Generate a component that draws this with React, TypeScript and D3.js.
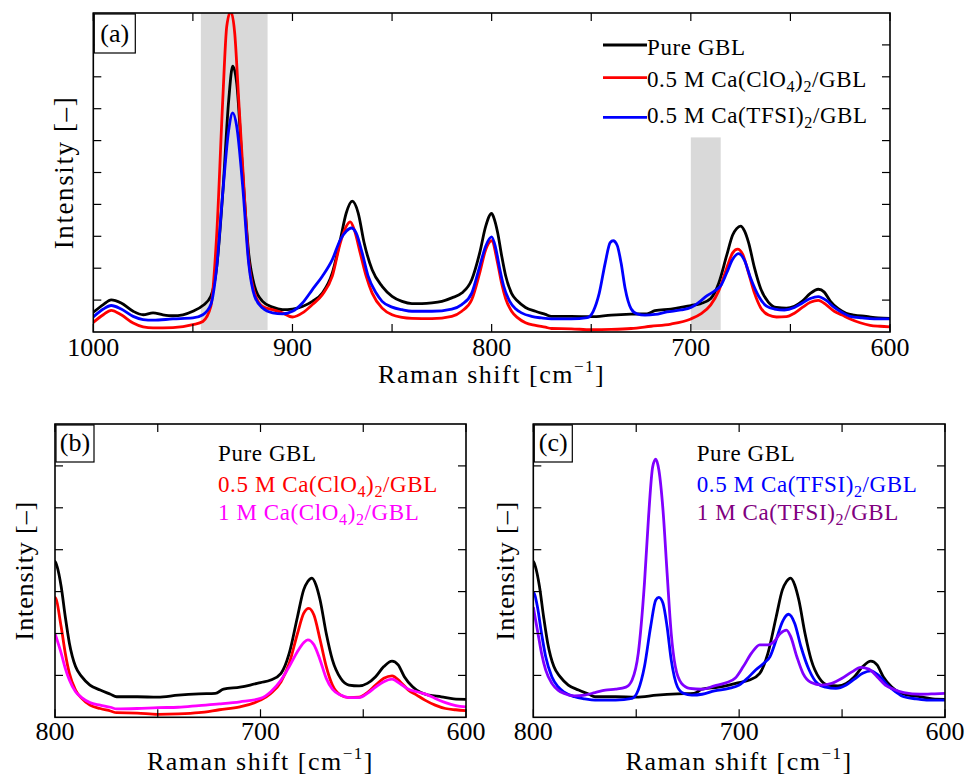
import React from 'react';
import * as d3 from 'd3';

type Pt = [number, number];

// ---------- DATA (Raman shift [cm^-1], intensity [a.u.]) ----------
const pureGBL: Pt[] = [
  [1000, 0.62], [995, 0.86], [991, 1.01], [986, 0.91], [980, 0.65], [975, 0.54], [970, 0.60], [965, 0.54],
  [960, 0.51], [955, 0.54], [950, 0.65], [945, 0.83], [941, 1.12], [938, 2.06], [935, 4.36], [932, 7.28],
  [930, 8.33], [928, 7.8], [925, 5.0], [922, 2.48], [919, 1.43], [915, 0.96], [910, 0.78], [905, 0.70],
  [900, 0.72], [895, 0.80], [890, 0.96], [885, 1.22], [880, 1.85], [876, 2.89], [873, 3.73], [870, 4.10],
  [867, 3.73], [864, 2.79], [860, 1.95], [855, 1.43], [850, 1.12], [845, 0.96], [840, 0.89], [835, 0.89],
  [830, 0.91], [825, 0.96], [820, 1.07], [815, 1.22], [810, 1.64], [806, 2.48], [803, 3.31], [800, 3.72],
  [799, 3.60], [797, 3.12], [795, 2.40], [793, 1.77], [790, 1.21], [787, 0.97], [783, 0.77], [778, 0.65],
  [773, 0.55], [770, 0.49], [760, 0.49], [750, 0.48], [740, 0.53], [730, 0.56], [722, 0.57], [718, 0.67],
  [710, 0.72], [705, 0.77], [700, 0.83], [695, 0.89], [690, 1.05], [686, 1.53], [682, 2.40], [679, 3.04],
  [677, 3.24], [675, 3.32], [673, 3.16], [671, 2.80], [668, 2.00], [665, 1.37], [661, 0.93], [657, 0.77],
  [652, 0.75], [648, 0.81], [644, 0.97], [640, 1.21], [636, 1.34], [633, 1.25], [630, 0.97], [626, 0.73],
  [622, 0.59], [618, 0.53], [612, 0.49], [606, 0.44], [600, 0.43],
];

const clo4Half: Pt[] = [
  [1000, 0.30], [995, 0.54], [991, 0.68], [986, 0.54], [980, 0.28], [975, 0.16], [970, 0.13], [960, 0.14],
  [950, 0.23], [945, 0.33], [941, 0.80], [938, 3.10], [935, 7.28], [933, 9.58], [931, 10.05], [929, 9.37],
  [927, 7.28], [925, 5.19], [922, 2.27], [919, 1.22], [915, 0.80], [910, 0.70], [905, 0.60], [900, 0.47],
  [895, 0.60], [890, 0.86], [885, 1.17], [880, 1.75], [876, 2.79], [873, 3.31], [871, 3.45], [869, 3.21],
  [866, 2.48], [863, 1.75], [860, 1.22], [855, 0.75], [850, 0.54], [845, 0.46], [840, 0.43], [830, 0.42],
  [820, 0.49], [815, 0.65], [810, 1.01], [806, 1.85], [803, 2.58], [800, 2.86], [797, 2.16], [795, 1.53],
  [793, 1.05], [790, 0.65], [787, 0.45], [783, 0.29], [778, 0.21], [773, 0.15], [770, 0.11], [760, 0.10],
  [750, 0.07], [740, 0.08], [730, 0.11], [720, 0.18], [710, 0.25], [700, 0.41], [695, 0.57], [690, 0.85],
  [686, 1.29], [682, 2.00], [679, 2.48], [676.5, 2.60], [674, 2.44], [671, 1.85], [668, 1.21], [665, 0.77],
  [661, 0.53], [657, 0.47], [652, 0.48], [648, 0.59], [644, 0.77], [640, 0.93], [636, 0.99], [632, 0.85],
  [628, 0.65], [624, 0.53], [620, 0.41], [615, 0.29], [610, 0.21], [605, 0.18], [600, 0.16],
];

const tfsiHalf: Pt[] = [
  [1000, 0.47], [995, 0.72], [991, 0.83], [986, 0.72], [980, 0.49], [975, 0.39], [970, 0.37], [960, 0.41],
  [950, 0.44], [945, 0.54], [941, 0.86], [938, 2.06], [935, 4.36], [932, 6.34], [930, 6.87], [928, 6.45],
  [925, 4.57], [922, 2.16], [919, 1.12], [915, 0.75], [910, 0.60], [905, 0.57], [900, 0.65], [895, 0.91],
  [890, 1.33], [885, 1.75], [880, 2.27], [876, 2.89], [873, 3.16], [870.5, 3.26], [868, 3.10], [865, 2.48],
  [862, 1.75], [858, 1.22], [855, 0.96], [850, 0.78], [845, 0.70], [840, 0.65], [830, 0.65], [820, 0.72],
  [815, 0.86], [810, 1.22], [806, 2.06], [803, 2.69], [800, 2.98], [798, 2.64], [796, 2.00], [794, 1.45],
  [791, 0.97], [788, 0.73], [785, 0.60], [780, 0.49], [775, 0.44], [770, 0.41], [760, 0.41], [752, 0.45],
  [749, 0.65], [746, 1.21], [743, 2.16], [740.5, 2.80], [739, 2.86], [737, 2.72], [735, 2.16], [733, 1.37],
  [730, 0.73], [727, 0.57], [723, 0.53], [718, 0.55], [712, 0.63], [705, 0.69], [700, 0.77], [696, 0.93],
  [692, 1.13], [688, 1.29], [685, 1.45], [682, 1.85], [679, 2.28], [676, 2.46], [673, 2.24], [670, 1.69],
  [666, 1.13], [662, 0.81], [658, 0.72], [653, 0.69], [648, 0.77], [644, 0.91], [640, 1.05], [636, 1.11],
  [632, 0.99], [628, 0.77], [624, 0.61], [620, 0.49], [614, 0.44], [608, 0.41], [600, 0.41],
];

const clo4One: Pt[] = [
  [800, 2.00], [797, 1.53], [795, 1.17], [793, 0.89], [790, 0.61], [787, 0.47], [783, 0.35], [778, 0.29],
  [773, 0.24], [770, 0.20], [760, 0.21], [750, 0.23], [740, 0.24], [730, 0.28], [720, 0.32], [710, 0.37],
  [700, 0.45], [695, 0.61], [690, 0.89], [686, 1.21], [682, 1.57], [679, 1.78], [677, 1.85], [674, 1.73],
  [671, 1.37], [668, 0.93], [665, 0.67], [661, 0.53], [657, 0.47], [652, 0.47], [648, 0.57], [644, 0.72],
  [640, 0.85], [636, 0.91], [632, 0.80], [628, 0.67], [624, 0.61], [620, 0.56], [615, 0.45], [610, 0.35],
  [605, 0.28], [600, 0.25],
];

const tfsiOne: Pt[] = [
  [800, 2.63], [798, 2.08], [796, 1.53], [794, 1.13], [791, 0.81], [788, 0.65], [785, 0.57], [780, 0.51],
  [775, 0.53], [770, 0.59], [765, 0.65], [760, 0.67], [755, 0.72], [752, 0.89], [749, 1.53], [746, 3.20],
  [744, 4.79], [742, 5.98], [740.5, 6.16], [739, 5.90], [737, 4.95], [735, 3.44], [733, 2.00], [731, 1.21],
  [728, 0.81], [724, 0.69], [718, 0.67], [712, 0.75], [706, 0.83], [702, 0.93], [698, 1.21], [694, 1.53],
  [690, 1.73], [686, 1.73], [683, 1.81], [680, 2.00], [677, 2.08], [675, 1.93], [672, 1.45], [669, 1.05],
  [665, 0.83], [660, 0.77], [655, 0.81], [650, 0.93], [645, 1.09], [641, 1.19], [637, 1.15], [633, 0.97],
  [629, 0.77], [625, 0.67], [620, 0.59], [612, 0.55], [605, 0.56], [600, 0.57],
];

const shadedBandsA: [number, number, number][] = [
  [946, 912.5, 10], // [from, to, top]
  [700, 685, 6.1],
];

const xLabelsA = [1000, 900, 800, 700, 600];
const xLabelsBC = [800, 700, 600];

// ---------- STYLE ----------
const FONT = '"Liberation Serif", "DejaVu Serif", "Noto Serif", Tinos, "Times New Roman", Times, serif';
const C = {
  pure: '#000000',
  clo4Half: '#ff0000',
  tfsiHalf: '#0000ff',
  clo4One: '#ff00ff',
  tfsiOne: '#8000ff',
  tfsiOneText: '#800080',
  band: '#d9d9d9',
};

type Series = { data: Pt[]; color: string };

type LegendRow = { parts: (string | { sub: string })[]; color: string; lineColor?: string };

function RichText({ parts, x, y, color, size, ls }: { parts: (string | { sub: string })[]; x: number; y: number; color: string; size: number; ls: number }) {
  const out: React.ReactNode[] = [];
  parts.forEach((p, i) => {
    const prevSub = i > 0 && typeof parts[i - 1] !== 'string';
    if (typeof p === 'string') {
      out.push(<tspan key={i} dy={prevSub ? -5 : 0} style={{ fontSize: size }}>{p}</tspan>);
    } else {
      out.push(<tspan key={i} dy={prevSub ? 0 : 5} style={{ fontSize: size * 0.7 }}>{p.sub}</tspan>);
    }
  });
  return (
    <text x={x} y={y} fill={color} style={{ fontFamily: FONT, letterSpacing: ls }}>{out}</text>
  );
}

function Panel(props: {
  id: string;
  left: number; right: number; top: number; bottom: number;
  xDomain: [number, number]; yMax: number; xLabels: number[];
  series: Series[]; bands?: [number, number, number][];
  tag: string; tagW: number; tagH: number;
  ylabX: number; ylabSize: number; ylabLs: number;
  xlabY: number; tickY: number;
  legend: LegendRow[]; legX: number; legYs: number[]; legLineYs?: number[];
}) {
  const { id, left, right, top, bottom, xDomain, yMax, series, bands = [] } = props;
  const x = d3.scaleLinear().domain(xDomain).range([left, right]);
  const y = d3.scaleLinear().domain([0, yMax]).range([bottom, top]);
  const line = d3.line<Pt>().x((d) => x(d[0])).y((d) => y(d[1])).curve(d3.curveMonotoneX);
  const xMinor = x.ticks((xDomain[0] - xDomain[1]) / 50);
  const yTicks = d3.range(1, yMax);
  const tk = 8;
  return (
    <g>
      <defs>
        <clipPath id={`clip-${id}`}>
          <rect x={left} y={top} width={right - left} height={bottom - top} />
        </clipPath>
      </defs>
      {bands.map((b, i) => (
        <rect key={i} x={x(b[0])} y={y(b[2])} width={x(b[1]) - x(b[0])} height={y(0.06) - y(b[2])} fill={C.band} />
      ))}
      <g clipPath={`url(#clip-${id})`}>
        {series.map((s, i) => (
          <path key={i} d={line(s.data.filter((d) => d[0] <= xDomain[0] + 6 && d[0] >= xDomain[1] - 6)) || ''} fill="none" stroke={s.color} strokeWidth={2.8} strokeLinejoin="round" />
        ))}
      </g>
      {xMinor.map((t) => (
        <g key={'x' + t} stroke="#000" strokeWidth={1.2}>
          <line x1={x(t)} x2={x(t)} y1={bottom} y2={bottom - tk} />
          <line x1={x(t)} x2={x(t)} y1={top} y2={top + tk} />
        </g>
      ))}
      {yTicks.map((t) => (
        <g key={'y' + t} stroke="#000" strokeWidth={1.2}>
          <line x1={left} x2={left + tk} y1={y(t)} y2={y(t)} />
          <line x1={right} x2={right - tk} y1={y(t)} y2={y(t)} />
        </g>
      ))}
      <rect x={left} y={top} width={right - left} height={bottom - top} fill="none" stroke="#000" strokeWidth={1.6} />
      {props.xLabels.map((t) => (
        <text key={'l' + t} x={x(t)} y={props.tickY} textAnchor="middle" fill="#000" style={{ fontFamily: FONT, fontSize: 26 }}>{t}</text>
      ))}
      <text x={(left + right) / 2} y={props.xlabY} textAnchor="middle" fill="#000" style={{ fontFamily: FONT, fontSize: 26, letterSpacing: 1.5 }}>
        Raman shift [cm<tspan dy={-11} style={{ fontSize: 17 }}>−1</tspan><tspan dy={11}>]</tspan>
      </text>
      <text transform={`translate(${props.ylabX},${(top + bottom) / 2}) rotate(-90)`} textAnchor="middle" fill="#000" style={{ fontFamily: FONT, fontSize: props.ylabSize, letterSpacing: props.ylabLs }}>
        Intensity [–]
      </text>
      <rect x={left + 1} y={top + 1} width={props.tagW} height={props.tagH} fill="#fff" stroke="#000" strokeWidth={1.2} />
      <text x={left + 1 + props.tagW / 2} y={top + props.tagH - 10} textAnchor="middle" fill="#000" style={{ fontFamily: FONT, fontSize: 26 }}>{props.tag}</text>
      {props.legend.map((r, i) => (
        <g key={'lg' + i}>
          {props.legLineYs && (
            <line x1={props.legX - 44} x2={props.legX} y1={props.legLineYs[i]} y2={props.legLineYs[i]} stroke={r.lineColor || r.color} strokeWidth={2.8} />
          )}
          <RichText parts={r.parts} x={props.legX} y={props.legYs[i]} color={r.color} size={23} ls={0.6} />
        </g>
      ))}
    </g>
  );
}

export default function App() {
  return (
    <svg width={975} height={775} style={{ position: 'absolute', left: 0, top: 0, background: '#fff', fontFamily: FONT }}>
      <rect width={975} height={775} fill="#fff" />
      <Panel
        id="a" left={93.3} right={890} top={13} bottom={332}
        xDomain={[1000, 600]} yMax={10} xLabels={xLabelsA}
        series={[
          { data: pureGBL, color: C.pure },
          { data: clo4Half, color: C.clo4Half },
          { data: tfsiHalf, color: C.tfsiHalf },
        ]}
        bands={shadedBandsA}
        tag="(a)" tagW={41} tagH={39}
        ylabX={73} ylabSize={27} ylabLs={1.6}
        xlabY={383} tickY={356}
        legend={[
          { parts: ['Pure GBL'], color: '#000', lineColor: C.pure },
          { parts: ['0.5 M Ca(ClO', { sub: '4' }, ')', { sub: '2' }, '/GBL'], color: '#000', lineColor: C.clo4Half },
          { parts: ['0.5 M Ca(TFSI)', { sub: '2' }, '/GBL'], color: '#000', lineColor: C.tfsiHalf },
        ]}
        legX={647} legYs={[55, 87.3, 123.3]} legLineYs={[45, 77.7, 117.3]}
      />
      <Panel
        id="b" left={55} right={466} top={424} bottom={717.3}
        xDomain={[800, 600]} yMax={7} xLabels={xLabelsBC}
        series={[
          { data: pureGBL, color: C.pure },
          { data: clo4Half, color: C.clo4Half },
          { data: clo4One, color: C.clo4One },
        ]}
        tag="(b)" tagW={38} tagH={37}
        ylabX={33} ylabSize={26} ylabLs={0.9}
        xlabY={770} tickY={740}
        legend={[
          { parts: ['Pure GBL'], color: '#000' },
          { parts: ['0.5 M Ca(ClO', { sub: '4' }, ')', { sub: '2' }, '/GBL'], color: C.clo4Half },
          { parts: ['1 M Ca(ClO', { sub: '4' }, ')', { sub: '2' }, '/GBL'], color: C.clo4One },
        ]}
        legX={218} legYs={[460.7, 491.5, 520]}
      />
      <Panel
        id="c" left={533.3} right={945} top={424} bottom={717.3}
        xDomain={[800, 600]} yMax={7} xLabels={xLabelsBC}
        series={[
          { data: pureGBL, color: C.pure },
          { data: tfsiHalf, color: C.tfsiHalf },
          { data: tfsiOne, color: C.tfsiOne },
        ]}
        tag="(c)" tagW={38} tagH={37}
        ylabX={514} ylabSize={26} ylabLs={0.9}
        xlabY={770} tickY={740}
        legend={[
          { parts: ['Pure GBL'], color: '#000' },
          { parts: ['0.5 M Ca(TFSI)', { sub: '2' }, '/GBL'], color: C.tfsiHalf },
          { parts: ['1 M Ca(TFSI)', { sub: '2' }, '/GBL'], color: C.tfsiOneText },
        ]}
        legX={696.7} legYs={[460.7, 491.5, 520]}
      />
    </svg>
  );
}
